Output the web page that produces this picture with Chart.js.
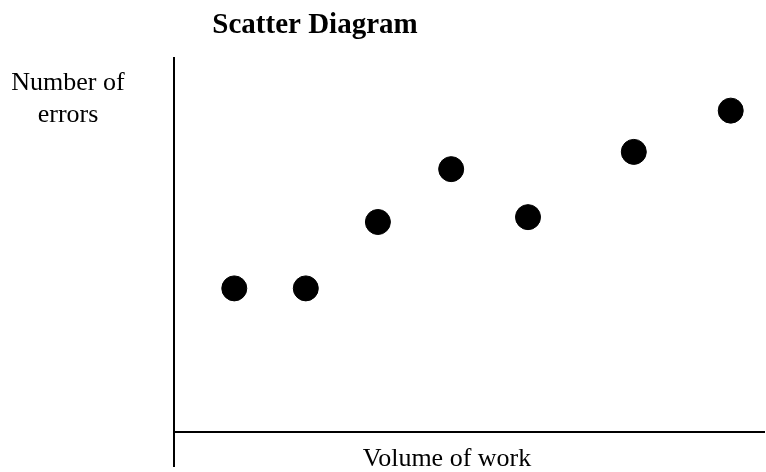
<!DOCTYPE html>
<html lang="en">
<head>
    <meta charset="UTF-8">
    <title>Scatter Diagram</title>
    <script src="https://cdn.jsdelivr.net/npm/chart.js"></script>
    <style>
        body {
            margin: 0;
            background: #fff;
        }
        #wrap {
            position: relative;
            width: 766px;
            height: 472px;
        }
    </style>
</head>
<body>

<div id="wrap">
    <canvas id="scatterChart"></canvas>
</div>

<script>
    // volume of work (x) and number of errors (y)
    const volumeOfWork = [10.2, 22.3, 34.5, 46.9, 59.9, 77.8, 94.2];
    const numberOfErrors = [38.3, 38.3, 56.0, 70.1, 57.3, 74.7, 85.7];

    const titleText = 'Scatter Diagram';
    const xAxisLabel = 'Volume of work';
    const yAxisLabel = ['Number of', 'errors'];

    const points = volumeOfWork.map((v, i) => ({ x: v, y: numberOfErrors[i] }));

    // axes lines + labels drawn by hand, the original has no ticks
    const axesPlugin = {
        id: 'axesPlugin',
        beforeDatasetsDraw(chart) {
            const ctx = chart.ctx;
            const area = chart.chartArea;
            ctx.save();
            ctx.strokeStyle = '#000';
            ctx.lineWidth = 2;
            ctx.beginPath();
            ctx.moveTo(area.left, area.top);
            ctx.lineTo(area.left, area.bottom + 35);
            ctx.moveTo(area.left, area.bottom);
            ctx.lineTo(area.right, area.bottom);
            ctx.stroke();

            ctx.fillStyle = '#000';
            ctx.textAlign = 'center';
            ctx.textBaseline = 'alphabetic';

            ctx.font = 'bold 29px "Liberation Serif"';
            ctx.fillText(titleText, 315, 33);

            ctx.font = '26px "Liberation Serif"';
            ctx.fillText(xAxisLabel, 447, 466);

            yAxisLabel.forEach((line, i) => {
                ctx.fillText(line, 68, 90 + i * 32);
            });
            ctx.restore();
        }
    };

    new Chart(document.getElementById('scatterChart'), {
        type: 'scatter',
        data: {
            datasets: [{
                data: points,
                backgroundColor: '#000',
                borderColor: '#000',
                pointRadius: 12.5,
                pointHoverRadius: 12.5
            }]
        },
        options: {
            responsive: true,
            maintainAspectRatio: false,
            animation: false,
            layout: {
                autoPadding: false,
                padding: { left: 174, right: 1, top: 57, bottom: 40 }
            },
            plugins: {
                legend: { display: false },
                tooltip: { enabled: false }
            },
            scales: {
                x: { display: false, min: 0, max: 100 },
                y: { display: false, min: 0, max: 100 }
            }
        },
        plugins: [axesPlugin]
    });
</script>

</body>
</html>
